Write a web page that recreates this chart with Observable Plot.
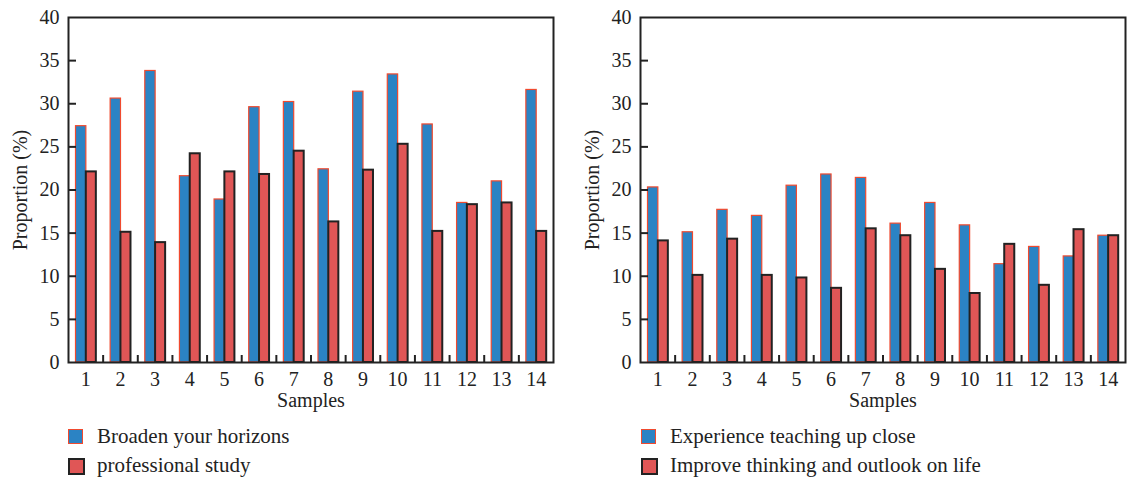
<!DOCTYPE html>
<html>
<head>
<meta charset="utf-8">
<script src="https://cdn.jsdelivr.net/npm/d3@7"></script>
<script src="https://cdn.jsdelivr.net/npm/@observablehq/plot@0.6"></script>
<style>
  html, body { margin: 0; padding: 0; background: #fff; }
  body { width: 1127px; height: 481px; position: relative; overflow: hidden; font-family: "Liberation Serif", "DejaVu Serif", serif; color: #222; }
  .panel { position: absolute; top: 0; }
  .legend { position: absolute; left: 0; top: 0; width: 1127px; height: 481px; font-size: 21px; line-height: 21px; }
  .sw { position: absolute; width: 13px; height: 13px; }
  .lab { position: absolute; white-space: nowrap; }
</style>
</head>
<body>
<div id="left" class="panel" style="left:0"></div>
<div id="right" class="panel" style="left:563px"></div>
<div id="legL" class="legend"></div>
<div id="legR" class="legend"></div>
<script>
// ---- data ----
const samples = [1, 2, 3, 4, 5, 6, 7, 8, 9, 10, 11, 12, 13, 14];
const yTicks = [0, 5, 10, 15, 20, 25, 30, 35, 40];

const leftNames = ["Broaden your horizons", "professional study"];
const broaden = [27.4, 30.6, 33.8, 21.6, 18.9, 29.6, 30.2, 22.4, 31.4, 33.4, 27.6, 18.5, 21.0, 31.6];
const professional = [22.1, 15.1, 13.9, 24.2, 22.1, 21.8, 24.5, 16.3, 22.3, 25.3, 15.2, 18.3, 18.5, 15.2];

const rightNames = ["Experience teaching up close", "Improve thinking and outlook on life"];
const experience = [20.3, 15.1, 17.7, 17.0, 20.5, 21.8, 21.4, 16.1, 18.5, 15.9, 11.4, 13.4, 12.3, 14.7];
const improve = [14.1, 10.1, 14.3, 10.1, 9.8, 8.6, 15.5, 14.7, 10.8, 8.0, 13.7, 8.95, 15.4, 14.7];

// ---- style ----
const BLUE = "#2b83c4", BLUE_STROKE = "#f04a2f";
const RED = "#e05656", RED_STROKE = "#222";
const FONT = "'Liberation Serif', 'DejaVu Serif', serif";

function chart(a, b, {width, marginLeft, marginRight}) {
  const height = 415, marginTop = 17, marginBottom = 53;
  const pw = width - marginLeft - marginRight;
  const ph = height - marginTop - marginBottom;
  const bw = pw / samples.length;
  const A = samples.map((s, i) => ({s, v: a[i]}));
  const B = samples.map((s, i) => ({s, v: b[i]}));
  const f = bw / 34.64;
  return Plot.plot({
    width, height, marginLeft, marginRight, marginTop, marginBottom,
    style: {fontFamily: FONT, fontSize: "20px", color: "#222", background: "#fff", overflow: "visible"},
    x: {type: "band", domain: samples, padding: 0, round: false},
    y: {domain: [0, 40]},
    marks: [
      Plot.barY(A, {x: "s", y: "v", fill: BLUE, stroke: BLUE_STROKE, strokeWidth: 1.2,
        insetLeft: 7.5 * f, insetRight: 16.8 * f}),
      Plot.barY(B, {x: "s", y: "v", fill: RED, stroke: RED_STROKE, strokeWidth: 2,
        insetLeft: 17.8 * f, insetRight: 6.8 * f}),
      Plot.ruleX(samples.slice(1), {x: d => d, dx: -bw / 2, insetTop: ph - 7, stroke: "#222", strokeWidth: 2}),
      Plot.ruleY(yTicks.slice(1, -1), {y: d => d, insetRight: pw - 8, stroke: "#222", strokeWidth: 2}),
      Plot.frame({stroke: "#222", strokeWidth: 2}),
      Plot.axisX({tickSize: 0, tickPadding: 9, label: "Samples", labelAnchor: "center", labelOffset: 44, labelArrow: "none"}),
      Plot.axisY({ticks: yTicks, tickSize: 0, tickPadding: 9, label: "Proportion (%)", labelAnchor: "center", labelOffset: 56, labelArrow: "none"})
    ]
  });
}

document.getElementById("left").append(chart(broaden, professional, {width: 563, marginLeft: 68, marginRight: 10}));
document.getElementById("right").append(chart(experience, improve, {width: 564, marginLeft: 77, marginRight: 2}));

function legend(el, names, left) {
  const node = document.getElementById(el);
  const specs = [{fill: BLUE, stroke: BLUE_STROKE, sw: 1.5}, {fill: RED, stroke: RED_STROKE, sw: 2}];
  names.forEach((n, i) => {
    const top = 429 + i * 29;
    const sw = document.createElement("div");
    sw.className = "sw";
    sw.style.left = left + "px";
    sw.style.top = top + "px";
    sw.style.background = specs[i].fill;
    sw.style.border = `${specs[i].sw}px solid ${specs[i].stroke}`;
    node.append(sw);
    const t = document.createElement("div");
    t.className = "lab";
    t.style.left = (left + 29) + "px";
    t.style.top = (top - 3) + "px";
    t.textContent = n;
    node.append(t);
  });
}
legend("legL", leftNames, 68);
legend("legR", rightNames, 641);
</script>
</body>
</html>
